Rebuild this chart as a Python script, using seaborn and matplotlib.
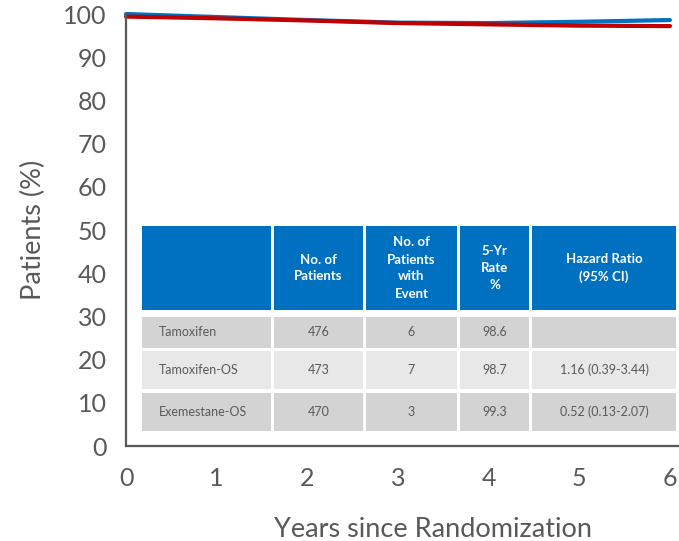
import pandas as pd
import matplotlib.pyplot as plt
import seaborn as sns
from matplotlib.patches import Rectangle

# Curves
years = [0, 1, 2, 3, 4, 5, 6]
blue_pct = [100.0, 99.3, 98.6, 98.0, 97.9, 98.2, 98.6]
red_pct = [99.4, 99.0, 98.5, 97.9, 97.6, 97.3, 97.2]

# Table contents
col_headers = ["", "No. of\nPatients", "No. of\nPatients\nwith\nEvent", "5-Yr\nRate\n%", "Hazard Ratio\n(95% CI)"]
arms = ["Tamoxifen", "Tamoxifen-OS", "Exemestane-OS"]
n_patients = ["476", "473", "470"]
n_events = ["6", "7", "3"]
rate_5yr = ["98.6", "98.7", "99.3"]
hazard = ["", "1.16 (0.39-3.44)", "0.52 (0.13-2.07)"]

W, H = 679, 541
TEXT = "#595959"

sns.set_theme(style="white")
plt.rcParams["font.family"] = ["Lato", "DejaVu Sans"]

fig = plt.figure(figsize=(W / 100, H / 100), dpi=100)
ax = fig.add_axes([126 / W, (H - 446) / H, (W - 126) / W, (446 - 14) / H])

df = pd.DataFrame({
    "year": years * 2,
    "pct": blue_pct + red_pct,
    "arm": ["blue"] * len(years) + ["red"] * len(years),
})
sns.lineplot(data=df, x="year", y="pct", hue="arm",
             palette={"blue": "#0070C0", "red": "#C00000"},
             linewidth=3, legend=False, ax=ax, clip_on=False)

ax.set_xlim(0, 6.1)
ax.set_ylim(0, 100)
ax.set_xticks(range(0, 7))
ax.set_yticks(range(0, 101, 10))
ax.tick_params(axis="x", length=0, pad=15, labelsize=18, labelcolor=TEXT)
ax.tick_params(axis="y", length=0, pad=14, labelsize=18, labelcolor=TEXT)
ax.set_xlabel("Years since Randomization", fontsize=19.5, color=TEXT)
ax.set_ylabel("Patients (%)", fontsize=19.5, color=TEXT, labelpad=12)
ax.xaxis.set_label_coords(0.555, -0.165)
for side in ["top", "right"]:
    ax.spines[side].set_visible(False)
for side in ["left", "bottom"]:
    ax.spines[side].set_color("#595959")
    ax.spines[side].set_linewidth(1.6)

# Table drawn in its own axes, pixel coordinates (y downwards)
tax = fig.add_axes([140 / W, (H - 434) / H, (W - 140) / W, (434 - 224) / H])
tax.set_xlim(140, W)
tax.set_ylim(434, 224)
tax.axis("off")

col_edges = [(142, 271), (274, 363), (366, 457), (460, 529), (532, 676)]
row_edges = [(226, 310), (317, 348), (351, 389), (393, 431)]
row_colors = ["#0070C0", "#D3D3D3", "#E8E8E8", "#D3D3D3"]

body = [arms, n_patients, n_events, rate_5yr, hazard]
for r, (y0, y1) in enumerate(row_edges):
    for c, (x0, x1) in enumerate(col_edges):
        tax.add_patch(Rectangle((x0, y0), x1 - x0, y1 - y0,
                                facecolor=row_colors[r], edgecolor="none"))
        ym = (y0 + y1) / 2
        if r == 0:
            tax.text((x0 + x1) / 2, ym, col_headers[c], ha="center", va="center",
                     color="white", fontsize=9.5, fontweight="bold", linespacing=1.5)
        elif c == 0:
            tax.text(x0 + 17, ym, body[c][r - 1], ha="left", va="center",
                     color=TEXT, fontsize=9)
        else:
            tax.text((x0 + x1) / 2, ym, body[c][r - 1], ha="center", va="center",
                     color=TEXT, fontsize=9)

fig.savefig("out.png", dpi=100)
